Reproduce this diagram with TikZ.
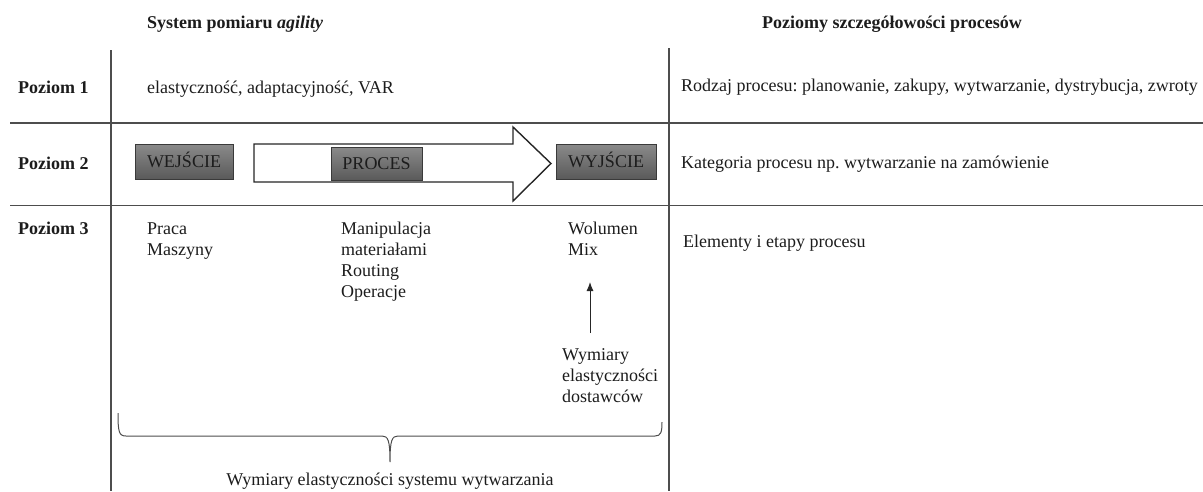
\documentclass[tikz,border=0pt]{standalone}
\usepackage{fontspec}
\setmainfont{Liberation Serif}
\usetikzlibrary{arrows.meta}
\definecolor{linegray}{HTML}{4D4D4D}
\definecolor{txt}{HTML}{1C1C1C}
\definecolor{boxtop}{HTML}{8A8A8A}
\definecolor{boxbot}{HTML}{5A5A5A}
\definecolor{boxborder}{HTML}{3A3A3A}
\frenchspacing
\begin{document}
\begin{tikzpicture}[x=1pt,y=-1pt,
  font=\fontsize{18}{21}\selectfont,
  rule/.style={draw=linegray, line width=1.3pt},
  lbl/.style={anchor=base west, inner sep=0pt, text=txt},
  multi/.style={anchor=north west, inner sep=0pt, align=left, text=txt},
  gbox/.style={draw=boxborder, line width=0.8pt, top color=boxtop, bottom color=boxbot,
    inner sep=0pt, text=txt, text height=12pt, text depth=0pt},
  bigarrow/.style={draw=black!85, line width=1.4pt, fill=white},
  brace/.style={draw=linegray, line width=1pt}]
\useasboundingbox (0,0) rectangle (1203,491);
% grid
\draw[rule] (111,50) -- (111,491);
\draw[rule] (669,48) -- (669,491);
\draw[rule] (10,123) -- (1203,123);
\draw[rule] (10,205.5) -- (1203,205.5);
% headers
\node[lbl] (h1) at (147,28) {\textbf{System pomiaru \textit{agility}}};
\node[lbl] (h2) at (762,28) {\textbf{Poziomy szczegółowości procesów}};
% level labels
\node[lbl] (p1) at (18,93) {\textbf{Poziom 1}};
\node[lbl] (p2) at (18,169) {\textbf{Poziom 2}};
\node[lbl] (p3) at (18,234) {\textbf{Poziom 3}};
% level 1
\node[lbl] (l1) at (147,93) {elastyczność, adaptacyjność, VAR};
\node[lbl] (r1) at (681,91) {Rodzaj procesu: planowanie, zakupy, wytwarzanie, dystrybucja, zwroty};
% level 2
\draw[bigarrow] (254,144) -- (513,144) -- (513,127) -- (551,163.5) -- (513,201) -- (513,182) -- (254,182) -- cycle;
\node[gbox, minimum width=98pt, minimum height=35pt] (in) at (184,161.5) {WEJŚCIE};
\node[gbox, minimum width=91pt, minimum height=33pt] (proc) at (376.5,163.5) {PROCES};
\node[gbox, minimum width=100pt, minimum height=35pt] (out) at (606,161.5) {WYJŚCIE};
\node[lbl] (r2) at (681,168) {Kategoria procesu np. wytwarzanie na zamówienie};
% level 3
\node[multi] (c1) at (147,219.3) {\strut Praca\\Maszyny};
\node[multi] (c2) at (341,219.3) {\strut Manipulacja\\materiałami\\Routing\\Operacje};
\node[multi] (c3) at (568,219.3) {\strut Wolumen\\Mix};
\node[multi] (sup) at (562,345.3) {\strut Wymiary\\elastyczności\\dostawców};
\node[lbl] (r3) at (683,247) {Elementy i etapy procesu};
\coordinate (a1) at (590,333);
\coordinate (a2) at (590,282);
\draw[black!85, line width=1pt, -{Latex[length=9pt,width=7pt]}] (a1) -- (a2);
% brace
\coordinate (bl) at (118,413);
\coordinate (bt) at (390,462);
\coordinate (br) at (662,422);
\draw[brace] (bl) .. controls (118,432) and (119,436) .. (126,436) -- (382,436)
  .. controls (388,436) and (390,440) .. (bt)
  .. controls (390,440) and (392,436) .. (398,436) -- (655,436)
  .. controls (661,436) and (662,432) .. (br);
\node[anchor=base, inner sep=0pt, text=txt] (bottom) at (390,485) {Wymiary elastyczności systemu wytwarzania};
\end{tikzpicture}
\end{document}
